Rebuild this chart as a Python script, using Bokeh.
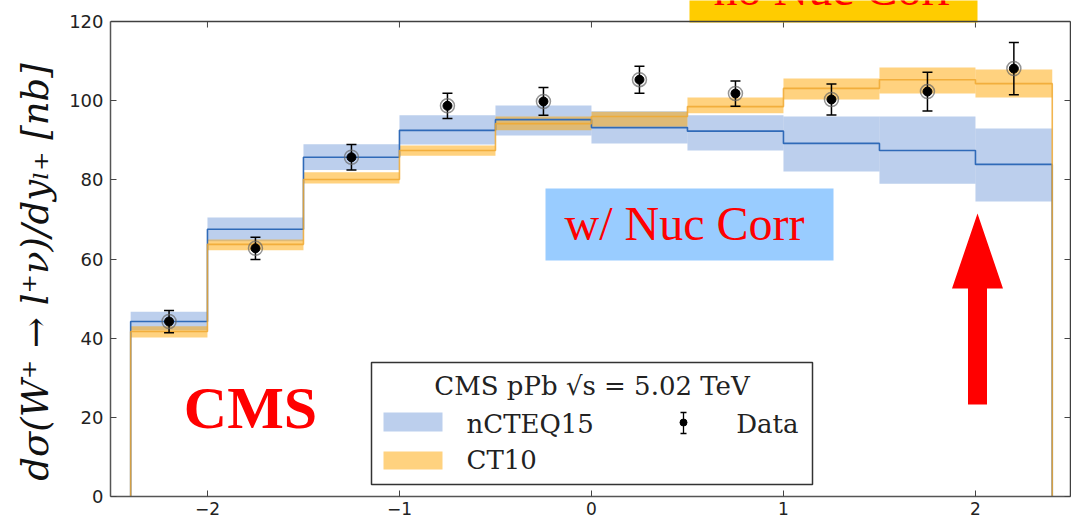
import numpy as np
from bokeh.plotting import figure
from bokeh.models import Range1d, LinearAxis, FixedTicker, Span
from bokeh.core.properties import value
from bokeh.embed import file_html
from bokeh.resources import INLINE

# ---------------- data ----------------
bin_edges = [-2.4, -2.0, -1.5, -1.0, -0.5, 0.0, 0.5, 1.0, 1.5, 2.0, 2.4]

ncteq15_central = [44.2, 67.5, 85.7, 92.5, 95.2, 93.2, 92.3, 89.2, 87.4, 83.9]
ncteq15_low     = [42.0, 64.5, 82.5, 88.9, 91.2, 89.2, 87.4, 82.1, 79.0, 74.5]
ncteq15_high    = [46.7, 70.5, 89.0, 96.3, 98.8, 97.3, 96.3, 96.0, 96.0, 93.0]

ct10_central = [41.7, 63.7, 80.1, 87.4, 94.2, 96.0, 98.5, 103.1, 105.3, 104.3]
ct10_low     = [40.2, 62.2, 79.1, 86.1, 92.5, 93.4, 96.8, 100.3, 101.8, 100.8]
ct10_high    = [43.0, 64.9, 81.9, 88.7, 96.0, 97.2, 100.8, 105.6, 108.4, 107.9]

data_values = [44.2, 62.7, 85.7, 98.7, 99.8, 105.3, 101.8, 100.3, 102.3, 108.1]
data_errors = [2.8, 2.8, 3.2, 3.2, 3.5, 3.4, 3.2, 3.9, 4.9, 6.6]

x_tick_values = [-2, -1, 0, 1, 2]
x_tick_labels = ["\u22122", "\u22121", "0", "1", "2"]
y_tick_values = [0, 20, 40, 60, 80, 100, 120]
y_tick_labels = ["0", "20", "40", "60", "80", "100", "120"]
Y_AXIS_MAX = 120.0

legend_title = "CMS pPb \u221as = 5.02 TeV"
legend_labels = ["nCTEQ15", "CT10", "Data"]
y_axis_title = "d\u03c3(W\u207a \u2192 l\u207a\u03bd)/dy\u2097\u208a [nb]"

# ---------------- layout ----------------
W, H = 1071, 519
FRAME_L, FRAME_R, FRAME_B = 110, 1070, 496
AXES_TOP = 21            # pixel row of y = 120 (top spine)
X_RANGE = (-2.505, 2.495)
# the drawing area reaches the top of the picture so that the "no Nuc Corr" box can stick out
PX_PER_UNIT = (FRAME_B - AXES_TOP) / Y_AXIS_MAX
Y_RANGE = (0.0, FRAME_B / PX_PER_UNIT)

def px_x(px):
    return X_RANGE[0] + (px - FRAME_L) * (X_RANGE[1] - X_RANGE[0]) / (FRAME_R - FRAME_L)

def px_y(py):
    return (FRAME_B - py) / PX_PER_UNIT

def base_y(py_baseline, size):
    # texts are placed by their middle; convert a baseline row to that
    return px_y(py_baseline - 0.33 * size)

BLUE_FILL, BLUE_ALPHA, BLUE_LINE = "#7aa0dc", 0.5, "#2f6ab8"
ORANGE_FILL, ORANGE_ALPHA, ORANGE_LINE = "#ffa500", 0.5, "#f0a830"
SPINE = "#404040"
SERIF = "DejaVu Serif"
TIMES = "Liberation Serif"
TICK_LEN = 6
LEG_FS = 26

p = figure(width=W, height=H, x_range=Range1d(*X_RANGE), y_range=Range1d(*Y_RANGE),
           output_backend="svg", toolbar_location=None,
           min_border_left=FRAME_L, min_border_right=W - FRAME_R,
           min_border_top=0, min_border_bottom=H - FRAME_B)
p.grid.visible = False
p.background_fill_color = "white"
p.border_fill_color = "white"
p.outline_line_color = None

for ax in (p.xaxis[0], p.yaxis[0]):
    ax.major_tick_in = TICK_LEN
    ax.major_tick_out = 0
    ax.minor_tick_line_color = None
    ax.axis_line_color = "#555555"
    ax.axis_line_width = 1.5
    ax.major_tick_line_color = "#444444"
    ax.major_label_text_font = "DejaVu Sans"
    ax.major_label_text_color = "#222222"

p.xaxis.ticker = FixedTicker(ticks=x_tick_values)
p.xaxis.major_label_overrides = {float(v): l for v, l in zip(x_tick_values, x_tick_labels)}
p.xaxis.major_label_text_font_size = "17px"
p.xaxis.major_label_standoff = 5

p.yaxis.ticker = FixedTicker(ticks=y_tick_values)
p.yaxis.bounds = (0, Y_AXIS_MAX)
p.yaxis.major_label_overrides = {float(v): l for v, l in zip(y_tick_values, y_tick_labels)}
p.yaxis.major_label_text_font_size = "18px"
p.yaxis.major_label_standoff = 7
# trailing no-break spaces push the centred label down to where the reference has it
p.yaxis.axis_label = y_axis_title + "\u00a0" * 4
p.yaxis.axis_label_text_font = SERIF
p.yaxis.axis_label_text_font_style = "italic"
p.yaxis.axis_label_text_font_size = "37px"
p.yaxis.axis_label_text_color = "#111111"
p.yaxis.axis_label_standoff = 9

# right spine with inward ticks (no labels)
right_axis = LinearAxis(ticker=FixedTicker(ticks=y_tick_values), bounds=(0, Y_AXIS_MAX),
                        major_label_overrides={float(v): "" for v in y_tick_values},
                        major_label_standoff=0, major_tick_in=TICK_LEN, major_tick_out=0,
                        minor_tick_line_color=None, axis_line_color=SPINE, axis_line_width=1.5,
                        major_tick_line_color="#444444")
p.add_layout(right_axis, "right")

# top spine at y = 120 with inward ticks at the x tick positions
p.add_layout(Span(location=Y_AXIS_MAX, dimension="width", line_color=SPINE, line_width=1.5))
p.segment(x0=x_tick_values, y0=[Y_AXIS_MAX] * len(x_tick_values), x1=x_tick_values,
          y1=[Y_AXIS_MAX - TICK_LEN / PX_PER_UNIT] * len(x_tick_values),
          line_color="#444444", line_width=1)

lefts, rights = bin_edges[:-1], bin_edges[1:]
centers = [(a + b) / 2 for a, b in zip(lefts, rights)]

# uncertainty bands
p.quad(left=lefts, right=rights, bottom=ncteq15_low, top=ncteq15_high,
       fill_color=BLUE_FILL, fill_alpha=BLUE_ALPHA, line_color=None)
p.quad(left=lefts, right=rights, bottom=ct10_low, top=ct10_high,
       fill_color=ORANGE_FILL, fill_alpha=ORANGE_ALPHA, line_color=None)

def step_path(edges, vals):
    xs, ys = [edges[0]], [0.0]
    for i, v in enumerate(vals):
        xs += [edges[i], edges[i + 1]]
        ys += [v, v]
    xs.append(edges[-1]); ys.append(0.0)
    return xs, ys

bx, by = step_path(bin_edges, ncteq15_central)
ox, oy = step_path(bin_edges, ct10_central)
p.line(bx, by, line_color=BLUE_LINE, line_width=1.6)
p.line(ox, oy, line_color=ORANGE_LINE, line_width=1.6, line_alpha=0.85)

# data points
lo = [v - e for v, e in zip(data_values, data_errors)]
hi = [v + e for v, e in zip(data_values, data_errors)]
p.segment(x0=centers, y0=lo, x1=centers, y1=hi, line_color="black", line_width=1.5)
p.scatter(x=centers + centers, y=lo + hi, marker="dash", size=10, line_color="black", line_width=1.5)
p.scatter(x=centers, y=data_values, size=14, fill_color=None, line_color="#666666", line_alpha=0.7, line_width=1.5)
p.scatter(x=centers, y=data_values, size=9, fill_color="black", line_color="black")

# ---------------- legend (drawn by hand, matplotlib-like) ----------------
LEG = dict(l=371, r=812, t=362, b=484)
p.quad(left=[px_x(LEG["l"])], right=[px_x(LEG["r"])], top=[px_y(LEG["t"])], bottom=[px_y(LEG["b"])],
       fill_color="white", line_color="#333333", line_width=1.5)
p.text(x=[px_x((LEG["l"] + LEG["r"]) / 2)], y=[base_y(394, LEG_FS)], text=[legend_title],
       text_font=value(SERIF), text_font_size=f"{LEG_FS}px", text_align="center",
       text_baseline="middle", text_color="#222222")
p.quad(left=[px_x(383)], right=[px_x(442)], top=[px_y(412)], bottom=[px_y(431)],
       fill_color=BLUE_FILL, fill_alpha=BLUE_ALPHA, line_color=None)
p.quad(left=[px_x(383)], right=[px_x(442)], top=[px_y(451)], bottom=[px_y(469)],
       fill_color=ORANGE_FILL, fill_alpha=ORANGE_ALPHA, line_color=None)
p.text(x=[px_x(466), px_x(466)], y=[base_y(432, LEG_FS), base_y(468, LEG_FS)], text=legend_labels[:2],
       text_font=value(SERIF), text_font_size=f"{LEG_FS}px", text_align="left",
       text_baseline="middle", text_color="#222222")
p.text(x=[px_x(798)], y=[base_y(432, LEG_FS)], text=[legend_labels[2]],
       text_font=value(SERIF), text_font_size=f"{LEG_FS}px", text_align="right",
       text_baseline="middle", text_color="#222222")
mx = px_x(683)
p.segment(x0=[mx], y0=[px_y(412)], x1=[mx], y1=[px_y(433)], line_color="black", line_width=1.3)
p.scatter(x=[mx, mx], y=[px_y(412), px_y(433)], marker="dash", size=6, line_color="black", line_width=1.3)
p.scatter(x=[mx], y=[px_y(422)], size=7, fill_color="black", line_color="black")

# ---------------- slide annotations ----------------
p.text(x=[px_x(250)], y=[base_y(427, 60)], text=["CMS"], text_font=value(TIMES), text_font_style="bold",
       text_font_size="60px", text_color="#ff0000", text_align="center", text_baseline="middle")

p.quad(left=[px_x(545)], right=[px_x(833)], top=[px_y(188)], bottom=[px_y(260)],
       fill_color="#99ccff", line_color=None)
p.text(x=[px_x(684)], y=[base_y(239, 48)], text=["w/ Nuc Corr"], text_font=value(TIMES),
       text_font_size="48px", text_color="#ff0000", text_align="center", text_baseline="middle")

# red arrow
AX, A_TAIL, A_BASE, A_TIP = px_x(977), px_y(404), px_y(288), px_y(213)
SHAFT_HALF = (px_x(987) - px_x(968)) / 2
HEAD_HALF = (px_x(1003) - px_x(952)) / 2
p.patch(x=[AX - SHAFT_HALF, AX + SHAFT_HALF, AX + SHAFT_HALF, AX + HEAD_HALF, AX,
           AX - HEAD_HALF, AX - SHAFT_HALF],
        y=[A_TAIL, A_TAIL, A_BASE, A_BASE, A_TIP, A_BASE, A_BASE],
        fill_color="#ff0000", line_color=None)

# "no Nuc Corr" box sticking out above the axes (cut by the top of the picture)
p.quad(left=[px_x(689)], right=[px_x(977)], top=[px_y(-10)], bottom=[px_y(22)],
       fill_color="#ffcc00", line_color=None)
p.text(x=[px_x(833)], y=[base_y(4, 48)], text=["no Nuc Corr"], text_font=value(TIMES),
       text_font_size="48px", text_color="#ff0000", text_align="center", text_baseline="middle")

open("out.html", "w").write(file_html(p, INLINE))
